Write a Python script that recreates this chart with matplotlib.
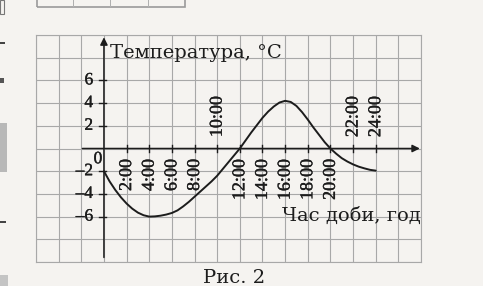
import matplotlib
matplotlib.use('Agg')
import matplotlib.pyplot as plt
import matplotlib.patheffects as pe
from matplotlib.patches import Rectangle
import numpy as np

# ---- data ----
hours = [0, 0.5, 1, 1.5, 2, 2.5, 3, 3.5, 4, 4.5, 5, 5.5, 6, 6.5, 7, 7.5, 8, 8.5, 9, 9.5,
         10, 10.5, 11, 11.5, 12, 12.5, 13, 13.5, 14, 14.5, 15, 15.5, 16, 16.5, 17, 17.5,
         18, 18.5, 19, 19.5, 20, 20.5, 21, 21.5, 22, 22.5, 23, 23.5, 24]
temps = [-2.0, -2.9, -3.65, -4.3, -4.85, -5.3, -5.65, -5.88, -6.0, -5.98, -5.92, -5.82,
         -5.68, -5.45, -5.1, -4.7, -4.25, -3.8, -3.35, -2.9, -2.4, -1.8, -1.2, -0.6, 0.0,
         0.7, 1.4, 2.05, 2.7, 3.25, 3.7, 4.05, 4.2, 4.1, 3.75, 3.2, 2.55, 1.85, 1.2, 0.55,
         0.0, -0.45, -0.85, -1.15, -1.4, -1.6, -1.75, -1.88, -1.95]
y_tick_vals = [6, 4, 2, -2, -4, -6]
y_tick_text = ['6', '4', '2', '\u20132', '\u20134', '\u20136']
x_ticks_below = [2, 4, 6, 8, 12, 14, 16, 18, 20]
x_ticks_above = [10, 22, 24]
y_title = 'Температура, °C'
x_title = 'Час доби, год'
caption = 'Рис. 2'

W, H = 483, 286
bg = '#f5f3f0'
ink = '#1c1c1c'
gridc = '#a8a8a8'
plt.rcParams['font.family'] = ['DejaVu Serif']
tick_font = ['Liberation Serif', 'DejaVu Serif']
heavy = [pe.withStroke(linewidth=0.25, foreground=ink)]

fig = plt.figure(figsize=(W / 100, H / 100), dpi=100)
fig.patch.set_facecolor(bg)
ax = fig.add_axes([36 / W, 24 / H, 385 / W, 227 / H])
ax.set_xlim(-6, 28)
ax.set_ylim(-10, 10)
ax.set_facecolor(bg)
ax.set_xticks(np.arange(-6, 29, 2))
ax.set_yticks(np.arange(-10, 11, 2))
ax.grid(True, color=gridc, lw=0.8)
ax.tick_params(length=0, labelbottom=False, labelleft=False)
for s in ax.spines.values():
    s.set_color(gridc)
    s.set_linewidth(0.8)

# axes with arrows
ax.annotate('', xy=(27.9, 0), xytext=(-1.9, 0),
            arrowprops=dict(arrowstyle='-|>', color=ink, lw=1.1, mutation_scale=11, shrinkA=0, shrinkB=0))
ax.annotate('', xy=(0, 9.8), xytext=(0, -9.6),
            arrowprops=dict(arrowstyle='-|>', color=ink, lw=1.1, mutation_scale=11, shrinkA=0, shrinkB=0))

# tick marks
for v in y_tick_vals:
    ax.plot([-0.45, 0.2], [v, v], color=ink, lw=1.0)
for h in x_ticks_below + x_ticks_above:
    ax.plot([h, h], [-0.35, 0.35], color=ink, lw=1.0)

fs = 13
for v, t in zip(y_tick_vals, y_tick_text):
    ax.text(-0.95, v, t, ha='right', va='center', fontsize=12.5, color=ink,
            family=tick_font, path_effects=heavy)
ax.text(-0.15, -0.95, '0', ha='right', va='center', fontsize=12.5, color=ink,
        family=tick_font, path_effects=heavy)

for h in x_ticks_below:
    ax.text(h, -0.95, f'{h}:00', rotation=90, ha='center', va='top', fontsize=fs,
            color=ink, family=tick_font, path_effects=heavy)
for h in x_ticks_above:
    ax.text(h, 1.0, f'{h}:00', rotation=90, ha='center', va='bottom', fontsize=fs,
            color=ink, family=tick_font, path_effects=heavy)

ax.text(0.5, 8.4, y_title, ha='left', va='center', fontsize=14, color=ink)
ax.text(28.0, -5.9, x_title, ha='right', va='center', fontsize=14, color=ink)

ax.plot(hours, temps, color=ink, lw=1.4, solid_capstyle='round', solid_joinstyle='round')

fig.text(234 / W, 1 - 278 / H, caption, ha='center', va='center', fontsize=14, color=ink)

# page decorations from the scan
def frect(x0, y0, x1, y1, **kw):
    fig.patches.append(Rectangle((x0 / W, 1 - y1 / H), (x1 - x0) / W, (y1 - y0) / H,
                                 transform=fig.transFigure, figure=fig, **kw))

frect(37, -2, 185, 7, facecolor='none', edgecolor='#9a9a9a', lw=1.2)
for xx in (73, 110, 148):
    frect(xx, 0, xx + 0.8, 7, facecolor='#b0b0b0', edgecolor='none')
frect(0, 123, 7, 172, facecolor='#b8b8b8', edgecolor='none')
frect(0, 275, 8, 286, facecolor='#c4c4c4', edgecolor='none')
frect(0, 42, 5, 44, facecolor='#444444', edgecolor='none')
frect(0, 221, 6, 223, facecolor='#444444', edgecolor='none')
frect(0, 78, 4, 83, facecolor='#555555', edgecolor='none')
frect(0, 0, 4, 14, facecolor='none', edgecolor='#777777', lw=0.8)

fig.savefig('out.png', dpi=100, facecolor=bg)
